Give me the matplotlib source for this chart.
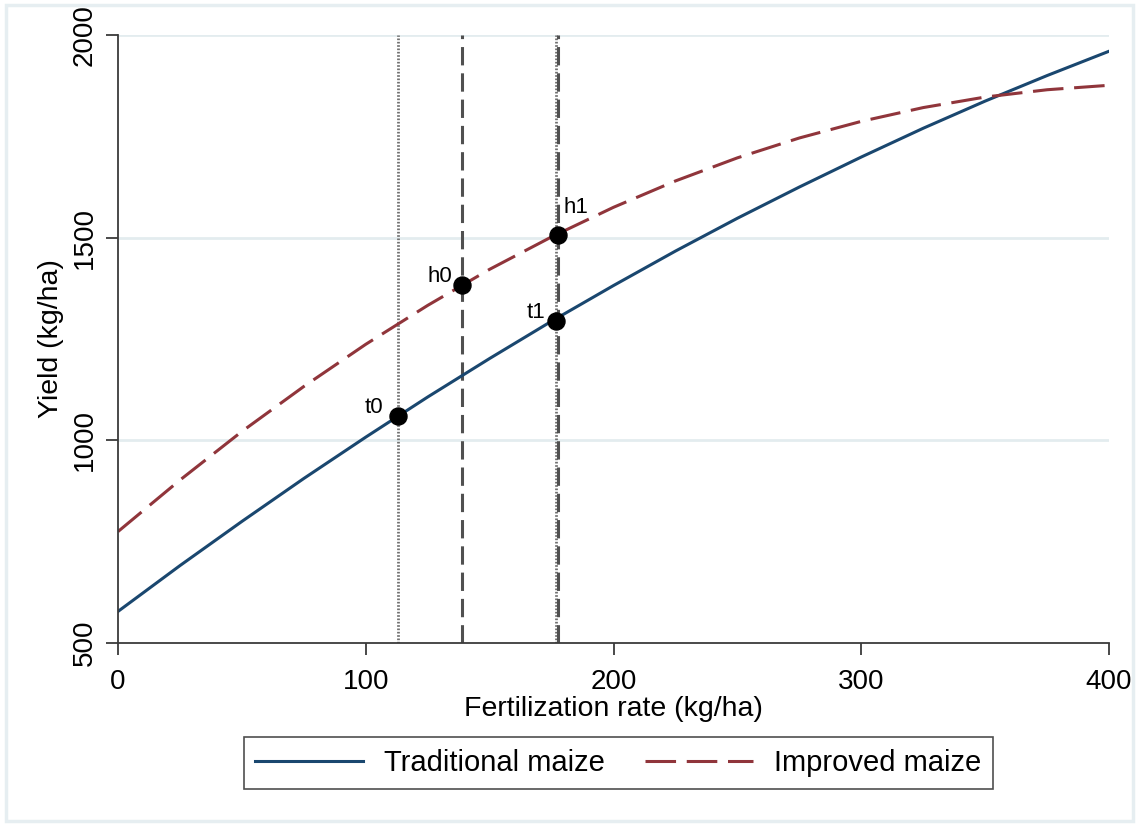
import matplotlib.pyplot as plt
from matplotlib.patches import Rectangle

plt.rcParams['font.family'] = ['Liberation Sans', 'DejaVu Sans']

# Yield response curves (values every 25 kg/ha)
fert = [0, 25, 50, 75, 100, 125, 150, 175, 200, 225, 250, 275, 300, 325, 350, 375, 400]
trad_yield = [578, 691, 800, 906, 1008, 1107, 1202, 1294, 1382, 1467, 1548, 1625, 1699, 1770, 1837, 1900, 1960]
impr_yield = [775, 902, 1022, 1133, 1237, 1333, 1422, 1502, 1575, 1640, 1697, 1746, 1787, 1821, 1847, 1865, 1876]

# optimum points
pt_labels = ["t0", "h0", "t1", "h1"]
pt_x = [113.0, 138.8, 176.8, 177.6]
pt_y = [1060, 1383, 1294, 1506]
pt_style = ["dotted", "dashed", "dotted", "dashed"]

navy = "#1a476f"
maroon = "#90353b"
grid_col = "#e3ecef"
axis_col = "#3a3a3a"

fig = plt.figure(figsize=(11.39, 8.26), dpi=100)
fig.patches.append(Rectangle((0.005, 0.006), 0.99, 0.988, transform=fig.transFigure,
                             fill=False, edgecolor="#e6eef1", lw=2.5))
ax = fig.add_axes([0.1036, 0.2215, 0.8701, 0.7361])

for v in [1000, 1500, 2000]:
    ax.axhline(v, color=grid_col, lw=2, zorder=0)

# vertical reference lines
for x, st in zip(pt_x, pt_style):
    if st == "dotted":
        ax.vlines(x, 500, 2000, color="#707070", lw=2.0, linestyles=(0, (0.6, 0.6)), zorder=1)
    else:
        ax.vlines(x, 500, 2000, color="#505050", lw=2.2, linestyles=(0, (6, 2.6)), zorder=1)

ax.plot(fert, trad_yield, color=navy, lw=2.2, label="Traditional maize", zorder=2)
ax.plot(fert, impr_yield, color=maroon, lw=2.2, dashes=(10, 3.5), label="Improved maize", zorder=2)

ax.scatter(pt_x, pt_y, s=150, color="black", zorder=3)
offsets = {"t0": (-24, 2), "h0": (-25, 2), "t1": (-21, 2), "h1": (3.6, 16)}
for lab, x, y in zip(pt_labels, pt_x, pt_y):
    dx, dy = offsets[lab]
    ax.annotate(lab, (x, y), xytext=(dx, dy), textcoords="offset points", fontsize=16)

ax.set_xlim(0, 400)
ax.set_ylim(500, 2000)
ax.set_xticks([0, 100, 200, 300, 400])
ax.set_yticks([500, 1000, 1500, 2000])
ax.spines["top"].set_visible(False)
ax.spines["right"].set_visible(False)
for s in ["left", "bottom"]:
    ax.spines[s].set_color(axis_col)
    ax.spines[s].set_linewidth(1.3)
ax.tick_params(direction="out", length=8.5, width=1.3, color=axis_col, labelsize=20)
ax.tick_params(axis="x", pad=10)
ax.tick_params(axis="y", pad=6)
for lbl in ax.get_yticklabels():
    lbl.set_rotation(90)
    lbl.set_va("center")

ax.set_xlabel("Fertilization rate (kg/ha)", fontsize=20.5, labelpad=1)
ax.set_ylabel("Yield (kg/ha)", fontsize=20.5, labelpad=6)

leg = fig.legend(loc="center", bbox_to_anchor=(0.5426, 0.0763), ncol=2, fontsize=21,
                 frameon=True, fancybox=False, edgecolor="#222222", handlelength=3.7,
                 handletextpad=0.7, columnspacing=1.4, borderpad=0.4)
leg.get_frame().set_linewidth(1.2)

fig.savefig("out.png", dpi=100)
